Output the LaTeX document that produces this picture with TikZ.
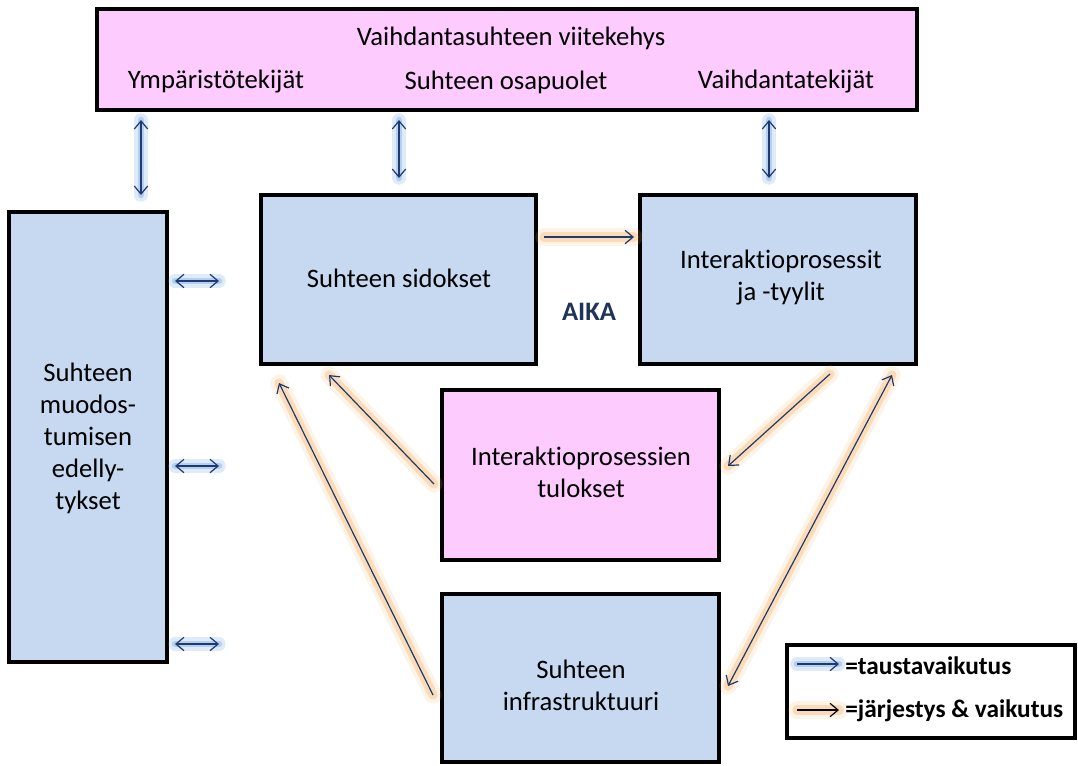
\documentclass[tikz,border=0pt]{standalone}
\usepackage{fontspec}
\setmainfont{Carlito}[Ligatures={NoCommon,NoDiscretionary,NoRare}]
\usetikzlibrary{arrows.meta}
\definecolor{pinkfill}{HTML}{FDCBFD}
\definecolor{bluefill}{HTML}{C6D9F1}
\definecolor{navy}{HTML}{1F3A6E}
\definecolor{aikacol}{HTML}{1F3458}
\definecolor{glowor}{HTML}{F8B060}
\definecolor{glowbl}{HTML}{7FAEE6}
\tikzset{
  box/.style={draw=black, line width=2.4pt, inner sep=0pt},
  pinkbox/.style={box, fill=pinkfill},
  bluebox/.style={box, fill=bluefill},
  lbl/.style={font=\fontsize{20}{24}\selectfont, align=center, text=black},
  arr/.style={draw=navy, line width=0.9pt, >={Straight Barb[length=6pt,width=10pt,line width=0.9pt]}},
  oglow/.style={preaction={draw=glowor, line width=13pt, opacity=0.15, line cap=round, arrows=-},
                preaction={draw=glowor, line width=7pt, opacity=0.35, line cap=round, arrows=-}},
  bglow/.style={preaction={draw=glowbl, line width=10pt, opacity=0.25, line cap=round, arrows=-},
                preaction={draw=glowbl, line width=5pt, opacity=0.45, line cap=round, arrows=-}},
  legtxt/.style={font=\fontsize{19}{23}\selectfont\bfseries, anchor=west, inner sep=0pt}
}
\begin{document}
\begin{tikzpicture}[x=0.75pt, y=-0.75pt]
\useasboundingbox (0,0) rectangle (1078,765);

% top frame
\draw[pinkbox] (97,9) rectangle (917,110);
\node[lbl] (title) at (511,38) {Vaihdantasuhteen viitekehys};
\node[lbl] (ymp) at (216,82) {Ympäristötekijät};
\node[lbl] (osa) at (506,82) {Suhteen osapuolet};
\node[lbl] (vaih) at (786,82) {Vaihdantatekijät};

% boxes
\draw[bluebox] (9,212) rectangle (167,662);
\node[lbl] (edel) at (88,438) {Suhteen\\muodos-\\tumisen\\edelly-\\tykset};

\draw[bluebox] (261,195) rectangle (536,364);
\node[lbl] (sid) at (399,278) {Suhteen sidokset};

\draw[bluebox] (640,195) rectangle (916,364);
\node[lbl] (inter) at (781,278) {Interaktioprosessit\\ja -tyylit};

\draw[pinkbox] (442,390) rectangle (719,560);
\node[lbl] (tul) at (581,472) {Interaktioprosessien\\tulokset};

\draw[bluebox] (442,594) rectangle (719,762);
\node[lbl] (infra) at (581,685) {Suhteen\\infrastruktuuri};

\node[font=\fontsize{20}{22}\selectfont\bfseries, text=aikacol] (aika) at (589,312) {AIKA};

% coordinates for arrows
\coordinate (v1a) at (141,120); \coordinate (v1b) at (141,195);
\coordinate (v2a) at (399,120); \coordinate (v2b) at (399,178);
\coordinate (v3a) at (769,120); \coordinate (v3b) at (769,178);
\coordinate (h1a) at (175,281); \coordinate (h1b) at (219,281);
\coordinate (h2a) at (175,466); \coordinate (h2b) at (219,466);
\coordinate (h3a) at (175,644); \coordinate (h3b) at (219,644);
\coordinate (o1a) at (544,237); \coordinate (o1b) at (634,237);
\coordinate (o2a) at (434,484); \coordinate (o2b) at (329,375);
\coordinate (o3a) at (433,695); \coordinate (o3b) at (279,383);
\coordinate (o4a) at (830,374); \coordinate (o4b) at (728,466);
\coordinate (o5a) at (728,686); \coordinate (o5b) at (892,375);

% blue double arrows
\foreach \a/\b in {v1a/v1b, v2a/v2b, v3a/v3b, h1a/h1b, h2a/h2b, h3a/h3b}
  \draw[arr, bglow, <->] (\a) -- (\b);

% orange arrows
\draw[arr, oglow, ->] (o1a) -- (o1b);
\draw[arr, oglow, ->] (o2a) -- (o2b);
\draw[arr, oglow, ->] (o3a) -- (o3b);
\draw[arr, oglow, ->] (o4a) -- (o4b);
\draw[arr, oglow, <->] (o5a) -- (o5b);

% legend
\draw[draw=black, line width=2.4pt, fill=white] (787,645) rectangle (1075,738);
\coordinate (l1a) at (797,664); \coordinate (l1b) at (839,664);
\coordinate (l2a) at (797,710); \coordinate (l2b) at (839,710);
\draw[arr, bglow, ->] (l1a) -- (l1b);
\draw[arr, draw=black, oglow, ->] (l2a) -- (l2b);
\node[legtxt] (leg1) at (845,666) {=taustavaikutus};
\node[legtxt] (leg2) at (845,711) {=järjestys \& vaikutus};
\end{tikzpicture}
\end{document}
